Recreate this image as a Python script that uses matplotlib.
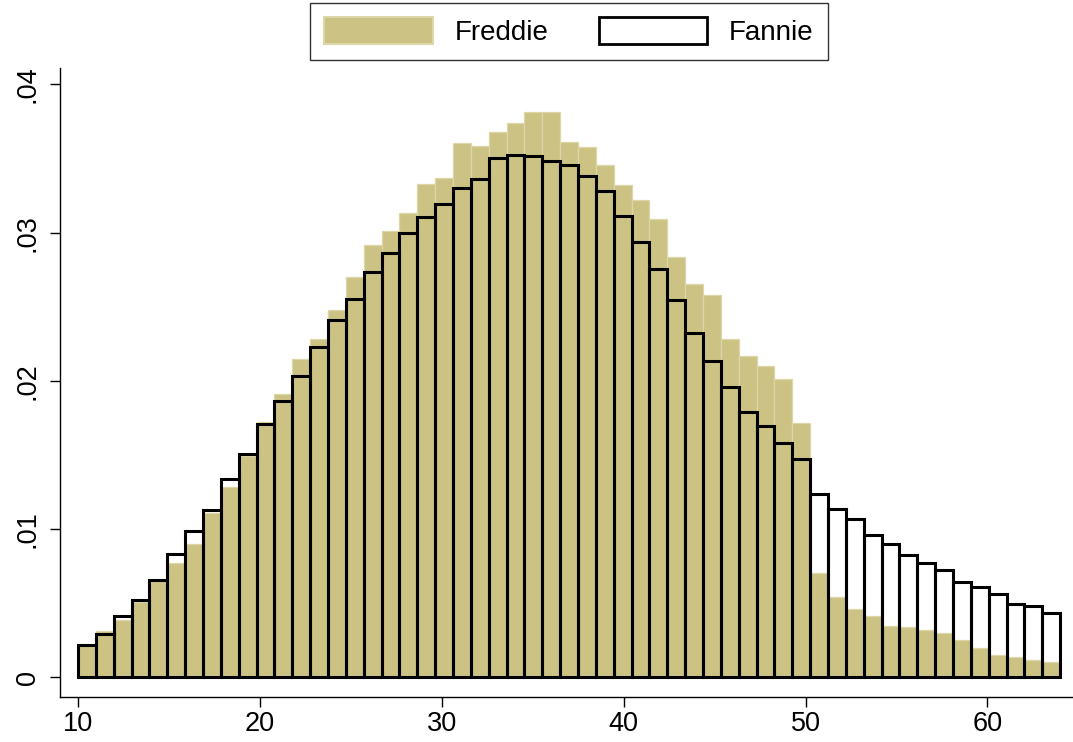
import numpy as np
import matplotlib
matplotlib.use("Agg")
import matplotlib.pyplot as plt
from matplotlib.patches import Patch

plt.rcParams['font.family'] = ['Liberation Sans', 'DejaVu Sans']

# Histogram bins: 55 bins from 10 to 64
bin_start = 10.0
bin_end = 64.0
n_bins = 55

freddie = [0.0022, 0.0031, 0.00385, 0.0051, 0.0065, 0.0077, 0.00903, 0.01106, 0.01282, 0.01493,
           0.01723, 0.0191, 0.02148, 0.02281, 0.02479, 0.02703, 0.02913, 0.03013, 0.03131, 0.03329,
           0.03367, 0.03605, 0.03587, 0.03677, 0.03738, 0.0381, 0.0381, 0.03614, 0.0358, 0.03457,
           0.03322, 0.03223, 0.03092, 0.02834, 0.02652, 0.0258, 0.02279, 0.0217, 0.02102, 0.02015,
           0.01717, 0.00707, 0.00543, 0.0046, 0.00415, 0.00347, 0.00343, 0.0032, 0.00299, 0.00253,
           0.00197, 0.00152, 0.00136, 0.00118, 0.00107]

fannie = [0.00221, 0.00295, 0.00412, 0.0052, 0.0066, 0.0083, 0.00986, 0.01128, 0.01336, 0.01506,
          0.0171, 0.01866, 0.02036, 0.02231, 0.02411, 0.02555, 0.02733, 0.02861, 0.0300, 0.03108,
          0.03194, 0.0330, 0.0336, 0.03506, 0.03524, 0.03518, 0.03486, 0.03457, 0.03383, 0.03282,
          0.03115, 0.02938, 0.02753, 0.02548, 0.02324, 0.02137, 0.01957, 0.01791, 0.01694, 0.0158,
          0.01472, 0.01238, 0.01137, 0.01067, 0.00959, 0.009, 0.00829, 0.00772, 0.00723, 0.00644,
          0.00613, 0.00561, 0.00495, 0.00485, 0.00433]

x_ticks = [10, 20, 30, 40, 50, 60]
y_ticks = [0, 0.01, 0.02, 0.03, 0.04]
y_tick_labels = ['0', '.01', '.02', '.03', '.04']

width = (bin_end - bin_start) / n_bins
lefts = bin_start + np.arange(n_bins) * width

W, H = 1073, 742
fig = plt.figure(figsize=(W / 100, H / 100), dpi=100)
ax = fig.add_axes([60 / W, 45 / H, (1072 - 60) / W, (697 - 68) / H])

fill_col = '#CCC283'
edge_col = '#DCD6A9'

ax.bar(lefts, freddie, width=width, align='edge', color=fill_col,
       edgecolor=edge_col, linewidth=0.9, zorder=2)
ax.bar(lefts, fannie, width=width, align='edge', fill=False,
       edgecolor='black', linewidth=2.2, zorder=3)

ax.set_xlim(9.01, 64.65)
ax.set_ylim(-0.00132, 0.0411)

for s in ['top', 'right']:
    ax.spines[s].set_visible(False)
for s in ['left', 'bottom']:
    ax.spines[s].set_linewidth(1.0)
    ax.spines[s].set_color('black')

ax.set_xticks(x_ticks)
ax.set_xticklabels([str(t) for t in x_ticks])
ax.set_yticks(y_ticks)
ax.set_yticklabels(y_tick_labels, rotation=90, va='center')
ax.tick_params(axis='both', length=7, width=1.0, color='black', labelsize=19.5)
ax.tick_params(axis='x', pad=3)
ax.tick_params(axis='y', pad=7)

handles = [Patch(facecolor=fill_col, edgecolor=edge_col, linewidth=1.5, label='Freddie'),
           Patch(facecolor='white', edgecolor='black', linewidth=2.0, label='Fannie')]
leg = fig.legend(handles=handles, loc='upper center', bbox_to_anchor=(569 / W, 1 - 3 / H),
                 ncol=2, fontsize=20, frameon=True, fancybox=False, edgecolor='black',
                 handlelength=3.9, handleheight=1.15, handletextpad=0.8, columnspacing=1.8,
                 borderpad=0.5, borderaxespad=0)
leg.get_frame().set_linewidth(1.0)

fig.savefig('out.png', dpi=100, facecolor='white')
